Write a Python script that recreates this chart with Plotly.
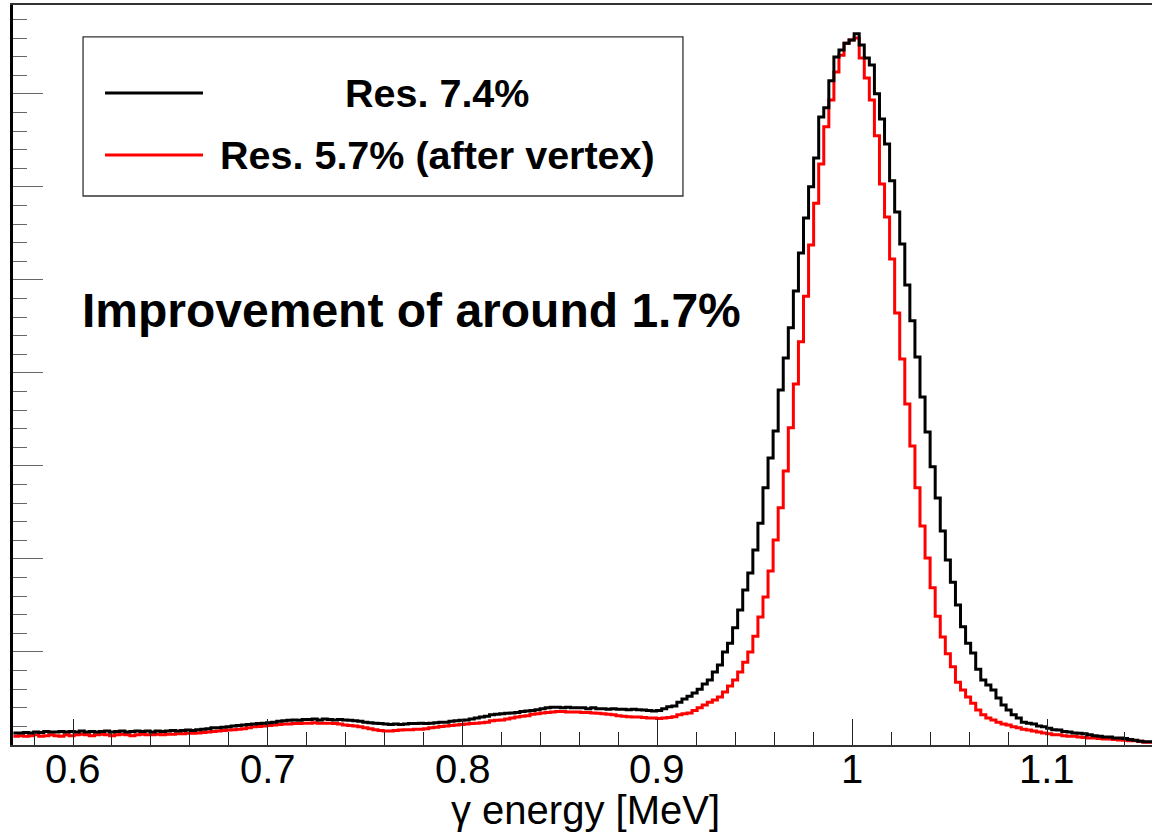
import numpy as np
import plotly.graph_objects as go

# ---------------- data ----------------
bin_width = 0.0026          # MeV
first_bin_index = 219       # first visible bin starts at 219 * 0.0026 MeV

counts_raw = [  # black: "Res. 7.4%"
    26, 26, 27, 26, 28, 27, 29, 28, 28, 29,
    28, 29, 28, 30, 28, 29, 28, 29, 30, 28,
    29, 30, 28, 29, 30, 29, 30, 28, 30, 29,
    30, 31, 30, 31, 32, 31, 33, 34, 35, 37,
    37, 38, 39, 41, 42, 43, 44, 45, 46, 47,
    48, 49, 51, 52, 53, 54, 53, 55, 55, 56,
    54, 56, 55, 54, 55, 54, 53, 52, 51, 49,
    48, 47, 46, 45, 44, 45, 44, 45, 46, 46,
    47, 46, 47, 48, 49, 49, 51, 52, 53, 54,
    56, 58, 60, 62, 65, 66, 67, 68, 69, 70,
    72, 73, 74, 76, 78, 80, 81, 81, 80, 81,
    80, 80, 80, 78, 80, 78, 78, 77, 78, 77,
    77, 76, 77, 76, 75, 74, 73, 74, 78, 82,
    84, 92, 99, 105, 112, 120, 131, 140, 157, 172,
    200, 219, 252, 290, 333, 370, 419, 477, 553, 617,
    675, 763, 832, 897, 976, 1058, 1133, 1200, 1262, 1350,
    1370, 1428, 1479, 1494, 1509, 1516, 1529, 1505, 1477, 1462,
    1400, 1346, 1292, 1213, 1146, 1077, 989, 912, 834, 748,
    673, 598, 531, 460, 398, 350, 301, 254, 219, 198,
    163, 140, 129, 118, 101, 86, 75, 65, 58, 49,
    47, 45, 41, 39, 36, 33, 32, 29, 28, 26,
    25, 24, 22, 20, 19, 17, 17, 15, 15, 14,
    12, 10, 8, 7, 7,
]

counts_vertex = [  # red: "Res. 5.7% (after vertex)"
    19, 20, 19, 20, 22, 19, 20, 22, 20, 19,
    22, 20, 22, 23, 22, 20, 22, 23, 22, 20,
    22, 23, 22, 20, 22, 23, 22, 22, 23, 22,
    23, 23, 24, 24, 25, 25, 26, 27, 28, 29,
    30, 31, 32, 33, 34, 35, 37, 39, 40, 41,
    42, 43, 44, 45, 45, 46, 46, 47, 47, 48,
    47, 47, 47, 46, 45, 43, 42, 41, 39, 37,
    35, 33, 31, 30, 30, 31, 32, 33, 33, 34,
    34, 35, 37, 38, 40, 41, 42, 43, 44, 45,
    46, 47, 48, 49, 52, 53, 54, 56, 58, 60,
    62, 63, 66, 67, 69, 70, 71, 72, 72, 71,
    71, 71, 70, 70, 69, 68, 67, 66, 65, 63,
    62, 61, 60, 60, 59, 58, 58, 57, 58, 59,
    61, 65, 67, 69, 74, 80, 86, 92, 97, 103,
    114, 127, 140, 157, 178, 200, 234, 275, 318, 374,
    441, 510, 589, 682, 776, 867, 965, 1075, 1165, 1249,
    1329, 1387, 1447, 1483, 1509, 1516, 1520, 1477, 1434, 1387,
    1310, 1206, 1135, 1045, 929, 830, 733, 643, 553, 471,
    402, 338, 277, 232, 196, 168, 135, 118, 103, 90,
    75, 65, 58, 54, 49, 45, 43, 39, 37, 34,
    32, 30, 28, 26, 24, 22, 22, 20, 19, 19,
    17, 16, 15, 15, 14, 13, 13, 12, 11, 10,
    9, 9, 8, 6, 6,
]

labels = ["Res. 7.4%", "Res. 5.7% (after vertex)"]
colors = ["#000000", "#ff0000"]
x_tick_values = [0.6, 0.7, 0.8, 0.9, 1.0, 1.1]
x_tick_labels = ["0.6", "0.7", "0.8", "0.9", "1", "1.1"]
x_title = "γ energy [MeV]"
note = "Improvement of around 1.7%"

# ---------------- figure ----------------
n_bins = len(counts_raw)
edges = (first_bin_index + np.arange(n_bins + 1)) * bin_width

FONT = "Liberation Sans, Arial, Helvetica, sans-serif"

fig = go.Figure()
for vals, col, name in [(counts_vertex, colors[1], labels[1]),
                        (counts_raw, colors[0], labels[0])]:
    y = list(vals) + [vals[-1]]
    fig.add_trace(go.Scatter(
        x=edges, y=y, mode="lines", line=dict(shape="hv", color=col, width=3),
        name=name, showlegend=False, hoverinfo="skip"))

fig.update_layout(
    width=1152, height=835,
    margin=dict(l=13, r=0, t=5, b=90),
    paper_bgcolor="white", plot_bgcolor="white",
    font=dict(family=FONT, color="black"),
)

fig.update_xaxes(
    range=[0.5692, 1.1539],
    tickvals=x_tick_values, ticktext=x_tick_labels,
    showticklabels=False,
    ticks="inside", ticklen=26, tickwidth=1.3, tickcolor="#222",
    minor=dict(dtick=0.02, tick0=0, ticks="inside", ticklen=13,
               tickwidth=1.3, tickcolor="#222"),
    showline=True, linecolor="#333", linewidth=2, mirror=True,
    showgrid=False, zeroline=False,
)
fig.update_yaxes(
    range=[0, 1591],
    dtick=200, tick0=0,
    ticks="inside", ticklen=30, tickwidth=1.3, tickcolor="#666",
    minor=dict(dtick=40, tick0=0, ticks="inside", ticklen=14,
               tickwidth=1.3, tickcolor="#666"),
    showticklabels=False,
    showline=True, linecolor="black", linewidth=3, mirror=False,
    showgrid=False, zeroline=False,
)

# x tick labels and axis title (placed like ROOT does)
for xv, txt in zip(x_tick_values, x_tick_labels):
    fig.add_annotation(xref="x", yref="paper", x=xv, y=-0.0325,
                       text=txt, showarrow=False,
                       xanchor="center", yanchor="middle",
                       font=dict(size=40, family=FONT, color="black"))
fig.add_annotation(xref="paper", yref="paper", x=0.5030, y=-0.0880,
                   text=x_title, showarrow=False,
                   xanchor="center", yanchor="middle",
                   font=dict(size=40, family=FONT, color="black"))

# legend box (drawn manually to mimic ROOT TLegend)
fig.add_shape(type="rect", xref="paper", yref="paper",
              x0=0.0615, x1=0.5882, y0=0.7419, y1=0.9568,
              line=dict(color="#333", width=1.3), fillcolor="rgba(0,0,0,0)")
for yy, col, name in [(0.8811, colors[0], labels[0]), (0.7973, colors[1], labels[1])]:
    fig.add_shape(type="line", xref="paper", yref="paper",
                  x0=0.0808, x1=0.1668, y0=yy, y1=yy,
                  line=dict(color=col, width=3))
    fig.add_annotation(xref="paper", yref="paper", x=0.3723, y=yy,
                       text="<b>%s</b>" % name, showarrow=False,
                       xanchor="center", yanchor="middle",
                       font=dict(size=39.5, family=FONT, color="black"))

fig.add_annotation(xref="paper", yref="paper", x=0.0588, y=0.5878,
                   text="<b>%s</b>" % note, showarrow=False,
                   xanchor="left", yanchor="middle",
                   font=dict(size=48, family=FONT, color="black"))

fig.write_html("out.html", config={"displayModeBar": False},
               post_script="document.body.style.margin='0';")
